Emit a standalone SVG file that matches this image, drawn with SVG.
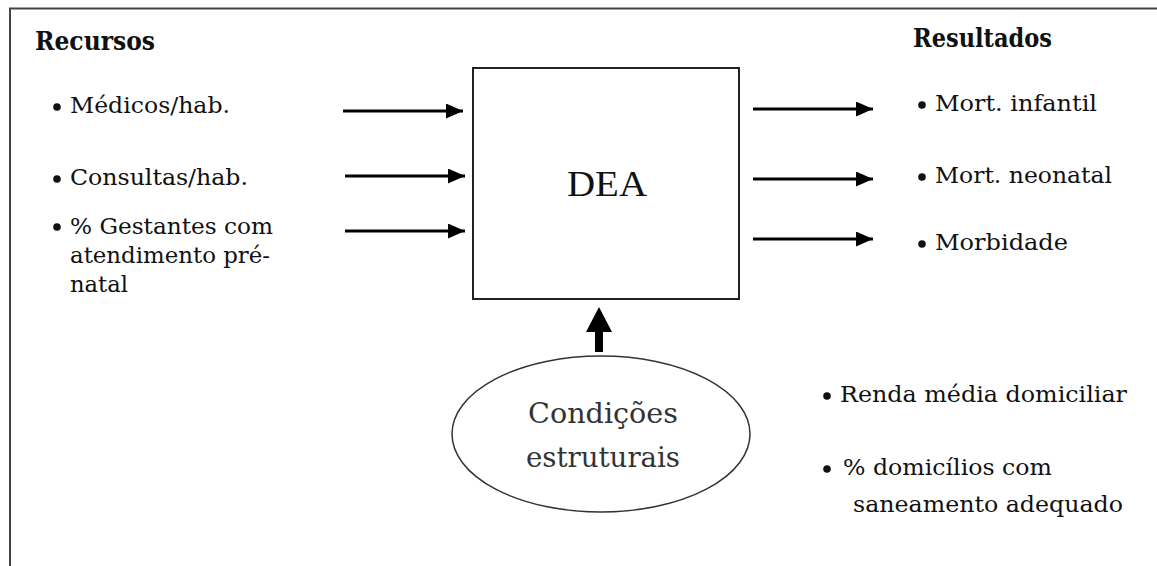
<svg xmlns="http://www.w3.org/2000/svg" width="1157" height="566" viewBox="0 0 1157 566">
<defs>
<style>
.t{font-family:"DejaVu Serif","Liberation Serif",serif;font-size:22px;fill:#111}
.h{font-family:"DejaVu Serif","Liberation Serif",serif;font-size:26px;font-weight:bold;fill:#111}
.c{font-family:"DejaVu Serif","Liberation Serif",serif;font-size:28px;fill:#333;text-anchor:middle}
.dea{font-family:"Liberation Serif","DejaVu Serif",serif;font-size:36px;fill:#111}
.b{fill:#111}
.ar{stroke:#000;stroke-width:3;fill:none;marker-end:url(#ah)}
</style>
<marker id="ah" viewBox="0 0 17 15" refX="17" refY="7.5" markerWidth="17" markerHeight="15" markerUnits="userSpaceOnUse" orient="auto">
<path d="M0,0 L17,7.5 L0,15 Z" fill="#000"/>
</marker>
</defs>
<rect width="1157" height="566" fill="#fff"/>
<g id="frame" stroke="#444" stroke-width="2" fill="none">
<path d="M10,566 V8.5 H1157"/>
</g>
<g id="recursos">
<text class="h" x="35" y="50" textLength="120" lengthAdjust="spacingAndGlyphs">Recursos</text>
<circle class="b" cx="57" cy="107" r="3.8"/>
<text class="t" x="70" y="113" textLength="160" lengthAdjust="spacingAndGlyphs">Médicos/hab.</text>
<circle class="b" cx="57" cy="179" r="3.8"/>
<text class="t" x="70" y="185" textLength="178" lengthAdjust="spacingAndGlyphs">Consultas/hab.</text>
<circle class="b" cx="57" cy="227" r="3.8"/>
<text class="t" x="70" y="234" textLength="203" lengthAdjust="spacingAndGlyphs">% Gestantes com</text>
<text class="t" x="70" y="263" textLength="200" lengthAdjust="spacingAndGlyphs">atendimento pré-</text>
<text class="t" x="70" y="292" textLength="58" lengthAdjust="spacingAndGlyphs">natal</text>
</g>
<g id="dea">
<rect x="473" y="68" width="266" height="231" fill="#fff" stroke="#222" stroke-width="2"/>
<text class="dea" x="567" y="196" textLength="80" lengthAdjust="spacingAndGlyphs">DEA</text>
</g>
<g id="resultados">
<text class="h" x="913" y="47" textLength="139" lengthAdjust="spacingAndGlyphs">Resultados</text>
<circle class="b" cx="922" cy="105" r="3.8"/>
<text class="t" x="935" y="111" textLength="162" lengthAdjust="spacingAndGlyphs">Mort. infantil</text>
<circle class="b" cx="922" cy="177" r="3.8"/>
<text class="t" x="935" y="183" textLength="177" lengthAdjust="spacingAndGlyphs">Mort. neonatal</text>
<circle class="b" cx="922" cy="244" r="3.8"/>
<text class="t" x="935" y="250" textLength="133" lengthAdjust="spacingAndGlyphs">Morbidade</text>
</g>
<g id="condicoes">
<ellipse cx="601" cy="434" rx="149" ry="78" fill="#fff" stroke="#333" stroke-width="1.5"/>
<text class="c" x="603" y="423" textLength="150" lengthAdjust="spacingAndGlyphs">Condições</text>
<text class="c" x="603" y="467" textLength="154" lengthAdjust="spacingAndGlyphs">estruturais</text>
</g>
<g id="estruturais">
<circle class="b" cx="827" cy="396" r="3.8"/>
<text class="t" x="840" y="402" textLength="287" lengthAdjust="spacingAndGlyphs">Renda média domiciliar</text>
<circle class="b" cx="827" cy="469" r="3.8"/>
<text class="t" x="843" y="475" textLength="209" lengthAdjust="spacingAndGlyphs">% domicílios com</text>
<text class="t" x="853" y="512" textLength="270" lengthAdjust="spacingAndGlyphs">saneamento adequado</text>
</g>
<g id="connectors">
<line class="ar" x1="343" y1="111" x2="463" y2="111"/>
<line class="ar" x1="345" y1="176" x2="465" y2="176"/>
<line class="ar" x1="345" y1="231" x2="465" y2="231"/>
<line class="ar" x1="753" y1="109" x2="873" y2="109"/>
<line class="ar" x1="753" y1="179" x2="873" y2="179"/>
<line class="ar" x1="753" y1="239" x2="873" y2="239"/>
<path d="M595,352 V332 H586 L599,307 L612,332 H603 V352 Z" fill="#000"/>
</g>
</svg>
